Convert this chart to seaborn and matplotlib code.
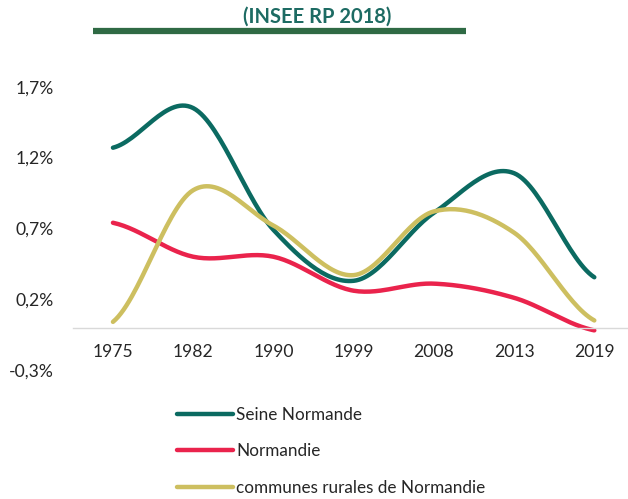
import numpy as np
import pandas as pd
import seaborn as sns
from matplotlib import pyplot as plt
from matplotlib.lines import Line2D

# Chart values
years = ['1975', '1982', '1990', '1999', '2008', '2013', '2019']
seine_normande = [1.27, 1.55, 0.69, 0.33, 0.81, 1.09, 0.355]
normandie = [0.74, 0.50, 0.50, 0.26, 0.31, 0.21, -0.02]
communes_rurales = [0.04, 0.97, 0.72, 0.37, 0.82, 0.67, 0.05]
series_names = ['Seine Normande', 'Normandie', 'communes rurales de Normandie']
y_ticks = [-0.3, 0.2, 0.7, 1.2, 1.7]
title = '(INSEE RP 2018)'

colors = ['#0b6a61', '#ea234c', '#cdbf60']


def smooth(values, steps=30):
    # Excel-like smoothed line: Catmull-Rom segments through the points
    pts = np.array(values, dtype=float)
    padded = np.concatenate([[pts[0]], pts, [pts[-1]]])
    xs, ys = [], []
    for i in range(len(pts) - 1):
        p0, p1, p2, p3 = padded[i], padded[i + 1], padded[i + 2], padded[i + 3]
        c1 = p1 + (p2 - p0) / 6
        c2 = p2 - (p3 - p1) / 6
        t = np.linspace(0, 1, steps, endpoint=False)
        ys.extend((1 - t) ** 3 * p1 + 3 * (1 - t) ** 2 * t * c1 + 3 * (1 - t) * t ** 2 * c2 + t ** 3 * p2)
        xs.extend(i + t)
    xs.append(len(pts) - 1)
    ys.append(pts[-1])
    return xs, ys


rows = []
for name, vals in zip(series_names, [seine_normande, normandie, communes_rurales]):
    xs, ys = smooth(vals)
    for x, y in zip(xs, ys):
        rows.append({'x': x, 'value': y, 'serie': name})
df = pd.DataFrame(rows)

sns.set_theme(style='white')
plt.rcParams['font.family'] = ['Lato', 'DejaVu Sans']

fig = plt.figure(figsize=(6.28, 4.99), dpi=100)
ax = fig.add_axes([0.116, 0.2585, 0.884, 0.5675])

sns.lineplot(data=df, x='x', y='value', hue='serie', palette=colors, sort=False,
             estimator=None, linewidth=3.2, ax=ax)

ax.set_xlim(-0.5, 6.42)
ax.set_ylim(-0.3, 1.7)
ax.set_xticks(range(len(years)))
ax.set_xticklabels(years)
ax.set_yticks(y_ticks)
ax.set_yticklabels([f'{v:.1f}%'.replace('.', ',') for v in y_ticks])
ax.tick_params(axis='both', length=0, labelsize=12.6, colors='#262626')
ax.tick_params(axis='x', pad=12)
ax.tick_params(axis='y', pad=14)
ax.set_xlabel('')
ax.set_ylabel('')

for side in ['top', 'right', 'left']:
    ax.spines[side].set_visible(False)
ax.spines['bottom'].set_position(('data', 0))
ax.spines['bottom'].set_color('#d9d9d9')
ax.spines['bottom'].set_linewidth(1)

# Legend below the chart
handles, labels = ax.get_legend_handles_labels()
ax.get_legend().remove()
fig.legend(handles, labels, loc='upper left', bbox_to_anchor=(168 / 628, 1 - 398 / 499),
           frameon=False, fontsize=12.3, handlelength=3.3, handletextpad=0.2,
           labelspacing=1.22, borderpad=0, labelcolor='#262626')

# Title and green bar
fig.text(317 / 628, 1 - 17 / 499, title, ha='center', va='center', fontsize=14.5,
         fontweight='bold', color='#1d6b63')
fig.add_artist(Line2D([93 / 628, 466 / 628], [1 - 31 / 499, 1 - 31 / 499],
                      transform=fig.transFigure, color='#2f6a44', linewidth=4.5,
                      solid_capstyle='butt'))

plt.savefig('out.png', dpi=100)
plt.close()
